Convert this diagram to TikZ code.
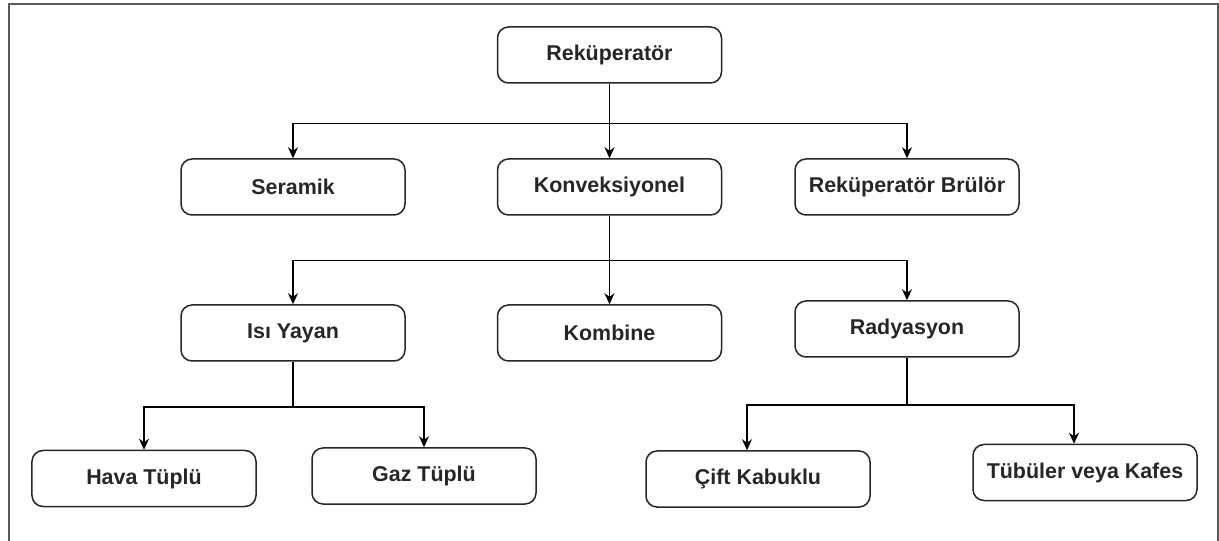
\documentclass[tikz,border=0pt]{standalone}
\usepackage{fontspec}
\setmainfont{Liberation Sans}
\usetikzlibrary{arrows.meta}
\tikzset{
  box/.style={draw=black!85, line width=1.5bp, rounded corners=11bp,
    minimum width=224bp, minimum height=56bp, inner sep=0pt,
    font=\fontsize{21.5}{26}\selectfont\bfseries, text=black!85},
  arr/.style={draw=black, line width=1.5bp,
    -{Stealth[length=11bp, width=10bp, inset=3.5bp]}},
  frame/.style={draw=black!65, line width=2bp}
}
\begin{document}
\begin{tikzpicture}[x=1bp, y=-1bp]
\useasboundingbox (0,0) rectangle (1219,541);
\draw[frame] (9,560) -- (9,4) -- (1218,4) -- (1218,560);
\node[box] (rek)  at (609.5,55)  {Reküperatör};
\node[box] (ser)  at (293,187)   {Seramik};
\node[box] (konv) at (609.5,187) {Konveksiyonel};
\node[box] (brul) at (907,187)   {Reküperatör Brülör};
\node[box] (isi)  at (293,333)   {Isı Yayan};
\node[box] (komb) at (609.5,333) {Kombine};
\node[box] (rad)  at (907,329)   {Radyasyon};
\node[box] (hava) at (144,478.5) {Hava Tüplü};
\node[box] (gaz)  at (424,476)   {Gaz Tüplü};
\node[box] (cift) at (758,479)   {Çift Kabuklu};
\node[box] (tub)  at (1085,472.5){Tübüler veya Kafes};
\coordinate (cifttop) at ([xshift=-11bp]cift.north);
\coordinate (tubtop) at ([xshift=-11bp]tub.north);
% level 1
\draw[arr] (rek.south) -- ++(0,40) -| (ser.north);
\draw[arr] (rek.south) -- (konv.north);
\draw[arr] (rek.south) -- ++(0,40) -| (brul.north);
% level 2
\draw[arr] (konv.south) -- ++(0,45) -| (isi.north);
\draw[arr] (konv.south) -- (komb.north);
\draw[arr] (konv.south) -- ++(0,45) -| (rad.north);
% level 3
\draw[arr] (isi.south) -- ++(0,45) -| (hava.north);
\draw[arr] (isi.south) -- ++(0,45) -| (gaz.north);
\draw[arr] (rad.south) -- ++(0,47) -| (cifttop);
\draw[arr] (rad.south) -- ++(0,47) -| (tubtop);
\end{tikzpicture}
\end{document}
